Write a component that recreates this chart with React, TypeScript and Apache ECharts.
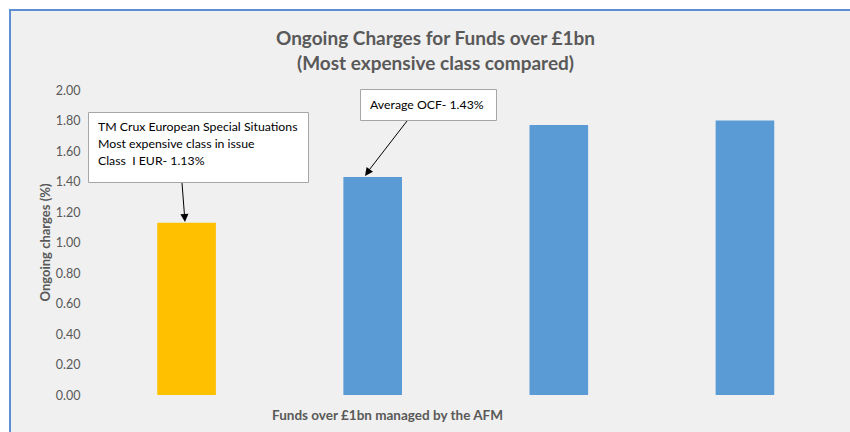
import React, { useEffect, useRef } from "react";
import * as echarts from "echarts";

const categories = [
  "TM Crux European Special Situations",
  "Fund B",
  "Fund C",
  "Fund D",
];
const ongoingCharges = [1.13, 1.43, 1.77, 1.8];
const barColors = ["#FFC000", "#5B9BD5", "#5B9BD5", "#5B9BD5"];
const titleLines = ["Ongoing Charges for Funds over £1bn", "(Most expensive class compared)"];
const yAxisName = "Ongoing charges (%)";
const xAxisName = "Funds over £1bn managed by the AFM";
const note1 = ["TM Crux European Special Situations", "Most expensive class in issue", "Class  I EUR- 1.13%"];
const note2 = "Average OCF- 1.43%";

const FONT = "Lato, 'Open Sans', sans-serif";
const GREY = "#595959";

export default function App() {
  const ref = useRef<HTMLDivElement>(null);
  useEffect(() => {
    if (!ref.current) return;
    const chart = echarts.init(ref.current, null, { renderer: "svg" });
    chart.setOption({
      animation: false,
      backgroundColor: "#ffffff",
      textStyle: { fontFamily: FONT },
      grid: { left: 93.5, right: 12, top: 90, bottom: 37, containLabel: false },
      xAxis: {
        type: "category",
        data: categories,
        axisLine: { show: false },
        axisTick: { show: false },
        axisLabel: { show: false },
        splitLine: { show: false },
      },
      yAxis: {
        type: "value",
        min: 0,
        max: 2,
        interval: 0.2,
        axisLine: { show: false },
        axisTick: { show: false },
        splitLine: { show: false },
        axisLabel: {
          color: GREY,
          fontSize: 12.5,
          margin: 13,
          fontFamily: FONT,
          formatter: (v: number) => v.toFixed(2),
        },
      },
      series: [
        {
          type: "bar",
          barWidth: "31.5%",
          data: ongoingCharges.map((v, i) => ({ value: v, itemStyle: { color: barColors[i] } })),
          z: 3,
        },
      ],
      graphic: [
        {
          type: "rect",
          z: -10,
          silent: true,
          shape: { x: 9, y: 9, width: 850, height: 430 },
          style: { fill: "#F0F0F0" },
        },
        {
          type: "line",
          z: -9,
          shape: { x1: 9, y1: 10, x2: 850, y2: 10 },
          style: { stroke: "#5D8FD2", lineWidth: 2 },
        },
        {
          type: "line",
          z: -9,
          shape: { x1: 10, y1: 9, x2: 10, y2: 432 },
          style: { stroke: "#5D8FD2", lineWidth: 2 },
        },
        {
          type: "text",
          x: 435.5,
          y: 37,
          style: {
            text: titleLines[0],
            fill: GREY,
            font: `bold 19px ${FONT}`,
            align: "center",
            verticalAlign: "middle",
          },
        },
        {
          type: "text",
          x: 435.5,
          y: 62,
          style: {
            text: titleLines[1],
            fill: GREY,
            font: `bold 19px ${FONT}`,
            align: "center",
            verticalAlign: "middle",
          },
        },
        {
          type: "text",
          x: 45,
          y: 242.5,
          rotation: Math.PI / 2,
          style: {
            text: yAxisName,
            fill: GREY,
            font: `bold 13px ${FONT}`,
            align: "center",
            verticalAlign: "middle",
          },
        },
        {
          type: "text",
          x: 387.5,
          y: 415,
          style: {
            text: xAxisName,
            fill: GREY,
            font: `bold 13.5px ${FONT}`,
            align: "center",
            verticalAlign: "middle",
          },
        },
        // annotation 1
        {
          type: "rect",
          z: 10,
          shape: { x: 88.5, y: 112.5, width: 220, height: 70 },
          style: { fill: "#ffffff", stroke: "#A6A6A6", lineWidth: 1 },
        },
        ...note1.map((t, i) => ({
          type: "text",
          z: 11,
          x: 98,
          y: 126 + i * 17,
          style: { text: t, fill: "#000000", font: `12.3px ${FONT}`, verticalAlign: "middle" },
        })),
        {
          type: "line",
          z: 10,
          shape: { x1: 182, y1: 183, x2: 184.4, y2: 214 },
          style: { stroke: "#000000", lineWidth: 1 },
        },
        {
          type: "polygon",
          z: 10,
          shape: { points: [[185, 222], [188.4, 213.7], [180.4, 214.3]] },
          style: { fill: "#000000" },
        },
        // annotation 2
        {
          type: "rect",
          z: 10,
          shape: { x: 360.5, y: 89.5, width: 136, height: 31 },
          style: { fill: "#ffffff", stroke: "#A6A6A6", lineWidth: 1 },
        },
        {
          type: "text",
          z: 11,
          x: 370,
          y: 104,
          style: { text: note2, fill: "#000000", font: `12.3px ${FONT}`, verticalAlign: "middle" },
        },
        {
          type: "line",
          z: 10,
          shape: { x1: 407, y1: 121, x2: 369.5, y2: 169.5 },
          style: { stroke: "#000000", lineWidth: 1 },
        },
        {
          type: "polygon",
          z: 10,
          shape: { points: [[365, 176], [373, 171.7], [366.6, 166.9]] },
          style: { fill: "#000000" },
        },
      ],
    });
    return () => chart.dispose();
  }, []);
  return (
    <div
      ref={ref}
      style={{ position: "absolute", left: 0, top: 0, width: 850, height: 432 }}
    />
  );
}
